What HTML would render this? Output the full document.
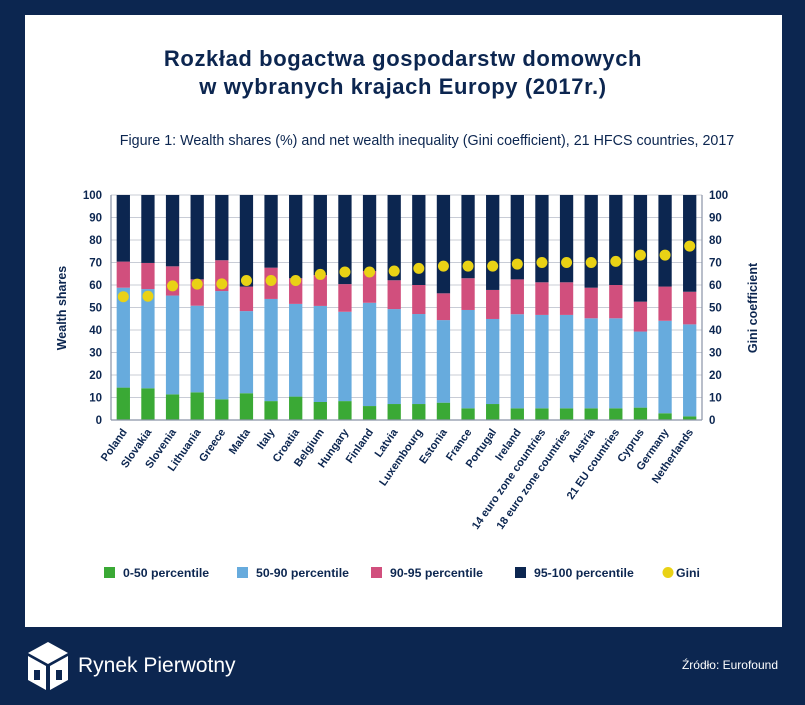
<!DOCTYPE html>
<html><head><meta charset="utf-8">
<style>
body{margin:0;width:805px;height:705px;background:#0c2650;font-family:"Liberation Sans",sans-serif;overflow:hidden}
#card{position:absolute;left:25px;top:15px;width:757px;height:612px;background:#fff}
</style></head><body>
<div id="card"></div>
<svg id="s" width="805" height="705" style="position:absolute;left:0;top:0">
<text x="403" y="66" text-anchor="middle" font-size="22" font-weight="bold" fill="#0c2650" letter-spacing="0.6">Rozkład bogactwa gospodarstw domowych</text>
<text x="403" y="94" text-anchor="middle" font-size="22" font-weight="bold" fill="#0c2650" letter-spacing="0.6">w wybranych krajach Europy (2017r.)</text>
<text x="427" y="145" text-anchor="middle" font-size="14.3" fill="#0c2650">Figure 1: Wealth shares (%) and net wealth inequality (Gini coefficient), 21 HFCS countries, 2017</text>
<text transform="translate(66,308) rotate(-90)" text-anchor="middle" font-size="12.5" font-weight="bold" fill="#0c2650">Wealth shares</text>
<text transform="translate(757,308) rotate(-90)" text-anchor="middle" font-size="12.5" font-weight="bold" fill="#0c2650">Gini coefficient</text>
<g id="g"></g>
<text x="778" y="669" text-anchor="end" font-size="12" fill="#fff">Źródło: Eurofound</text>
<g>
<polygon points="48,642 68,653 48,664 28,653" fill="#fff"/>
<polygon points="28,656 46,666 46,690 28,680" fill="#fff"/>
<polygon points="50,666 68,656 68,680 50,690" fill="#fff"/>
<rect x="34" y="670" width="6" height="10" fill="#0c2650"/><rect x="56" y="670" width="6" height="10" fill="#0c2650"/>
</g>
<text x="78" y="672" font-size="21" fill="#fff">Rynek Pierwotny</text>
</svg>
<script>
const categories=["Poland","Slovakia","Slovenia","Lithuania","Greece","Malta","Italy","Croatia","Belgium","Hungary","Finland","Latvia","Luxembourg","Estonia","France","Portugal","Ireland","14 euro zone countries","18 euro zone countries","Austria","21 EU countries","Cyprus","Germany","Netherlands"];
const p0_50=[14.4,14.1,11.4,12.3,9.2,11.9,8.4,10.4,8,8.4,6.2,7.1,7.1,7.7,5.2,7.1,5.2,5.2,5.2,5.2,5.2,5.5,3,1.6];
const p50_90=[44.4,44.1,43.9,38.5,48.1,36.5,45.4,41.2,42.7,39.7,45.9,42.2,40,36.7,43.7,37.8,41.8,41.5,41.5,40,40,33.8,41.1,40.9];
const p90_95=[11.6,11.6,13,11.7,13.7,10.9,13.9,11.4,13.7,12.3,14.1,12.8,12.9,11.9,14.1,12.9,15.5,14.5,14.5,13.6,14.8,13.3,15.2,14.5];
const gini=[54.8,55,59.6,60.4,60.5,62,62,62,64.7,65.8,65.8,66.2,67.4,68.4,68.4,68.4,69.3,70,70,70,70.5,73.3,73.3,77.3];
const yTicks=[0,10,20,30,40,50,60,70,80,90,100];
const ns="http://www.w3.org/2000/svg",g=document.getElementById('g');
const X0=111,X1=702,Y0=420,Y1=195;
const y=v=>Y0-(v/100)*(Y0-Y1);
const n=categories.length,step=(X1-X0)/n;
const x=i=>X0+step*(i+0.5);
const bw=step*0.54;
function mk(t,a){const e=document.createElementNS(ns,t);for(const k in a)e.setAttribute(k,a[k]);g.appendChild(e);return e;}
yTicks.forEach(t=>{
 let l=mk('line',{x1:X0,x2:X1,y1:y(t),y2:y(t),stroke:'#c8ccd6','stroke-width':1});
 
 
 let a=mk('text',{x:X0-9,y:y(t)+4,'text-anchor':'end','font-size':11.5,fill:'#0c2650','font-weight':'bold'});a.textContent=t;
 
 
 let b=mk('text',{x:X1+7,y:y(t)+4,'font-size':11.5,fill:'#0c2650','font-weight':'bold'});b.textContent=t;
 
 
});
const cols=['#3aa935','#67abdd','#d14f7d','#0c2650'];
categories.forEach((c,i)=>{
 const segs=[p0_50[i],p50_90[i],p90_95[i]];
 segs.push(100-segs[0]-segs[1]-segs[2]);
 let acc=0;
 segs.forEach((v,k)=>{
  let r=mk('rect',{x:x(i)-bw/2,y:y(acc+v),width:bw,height:y(acc)-y(acc+v),fill:cols[k]});
  
  
  acc+=v;
 });
 let t=mk('text',{transform:`translate(${x(i)+4},${Y0+12}) rotate(-55)`,'text-anchor':'end','font-size':11,'font-weight':'bold',fill:'#0c2650'});
 t.textContent=c;
 
 
});
gini.forEach((v,i)=>{
 let d=mk('circle',{cx:x(i),cy:y(v),r:5.5,fill:'#e9d215'});
 
 
});
[[X0],[X1]].forEach(([xx])=>{let l=mk('line',{x1:xx,x2:xx,y1:Y1,y2:Y0,stroke:'#8a93a6','stroke-width':1.2});
 
 });
let bl=mk('line',{x1:X0,x2:X1,y1:Y0,y2:Y0,stroke:'#8a93a6','stroke-width':1.2});


const legend=[["0-50 percentile",104,cols[0]],["50-90 percentile",237,cols[1]],["90-95 percentile",371,cols[2]],["95-100 percentile",515,cols[3]],["Gini",663,'#e9d215']];
legend.forEach(([t,lx,c],k)=>{
 let m=k<4?mk('rect',{x:lx,y:567,width:11,height:11,fill:c}):mk('circle',{cx:lx+5,cy:572.5,r:5.5,fill:c});
 
 
 let tx=mk('text',{x:lx+(k<4?19:13),y:577,'font-size':12.3,'font-weight':'bold',fill:'#0c2650'});tx.textContent=t;
 
 
});
</script>
</body></html>
